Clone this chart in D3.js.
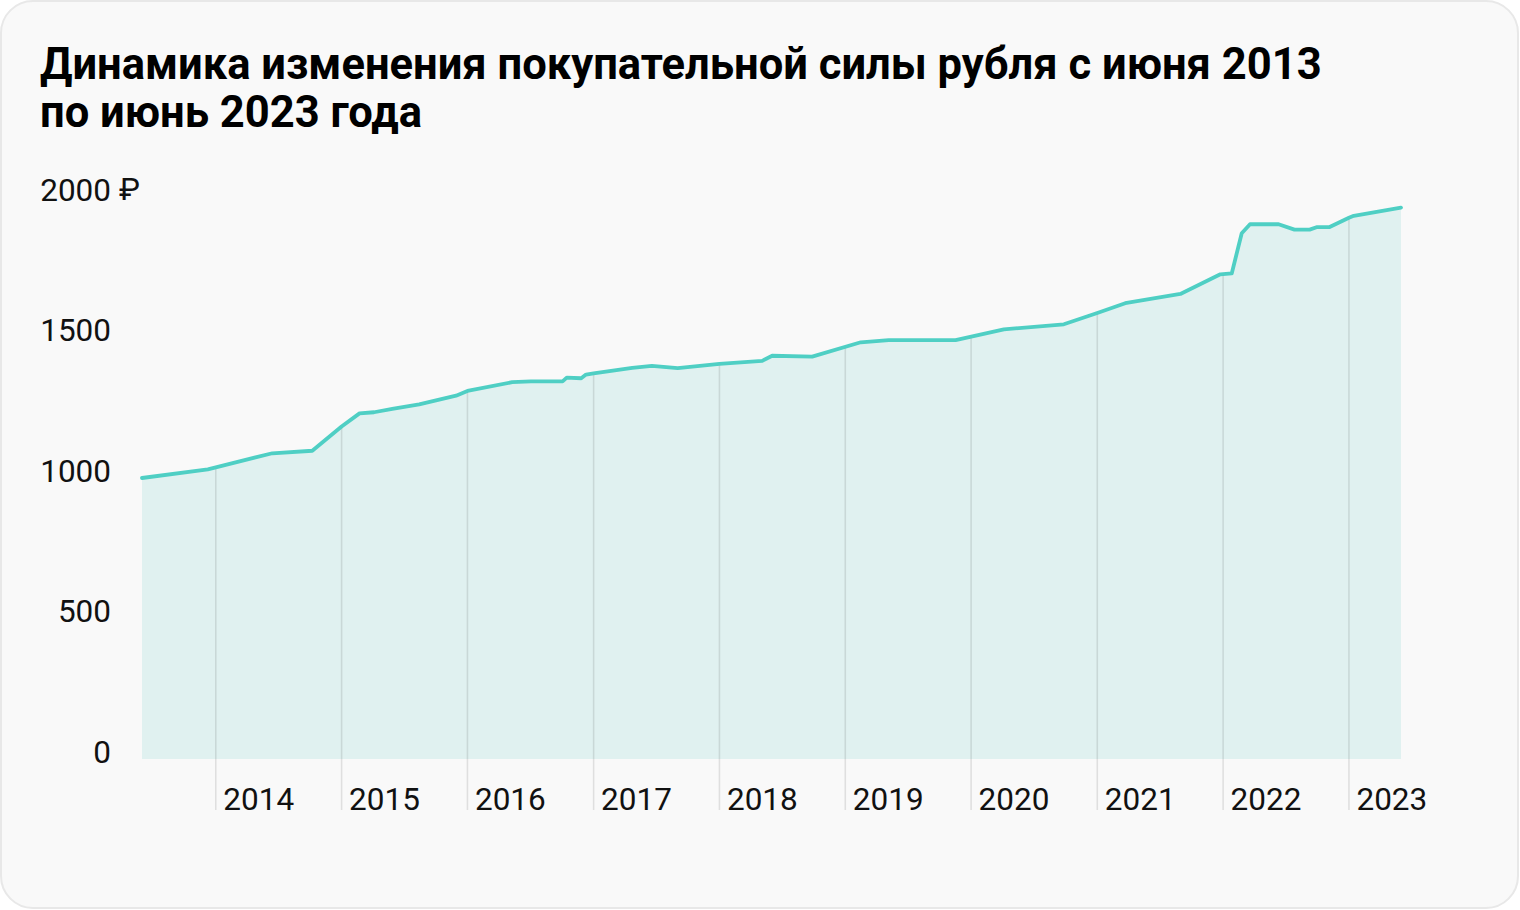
<!DOCTYPE html>
<html>
<head>
<meta charset="utf-8">
<script src="https://cdn.jsdelivr.net/npm/d3@7"></script>
<style>
  html, body { margin: 0; padding: 0; background: #ffffff; }
  svg { display: block; }
  text { font-family: Roboto, "Noto Sans", "DejaVu Sans", sans-serif; }
</style>
</head>
<body>
<svg id="chart" width="1520" height="910"></svg>
<script>
// ---- data ----
const titleLines = [
  "Динамика изменения покупательной силы рубля с июня 2013",
  "по июнь 2023 года"
];
const dates = [
  "2013-06-01","2013-12-09","2014-06-14","2014-10-08","2015-01-01","2015-02-22",
  "2015-04-05","2015-05-28","2015-08-14","2015-11-29","2016-01-01","2016-05-10",
  "2016-07-03","2016-10-03","2016-10-15","2016-11-26","2016-12-10","2017-01-01",
  "2017-04-23","2017-06-19","2017-09-02","2018-01-01","2018-05-05","2018-06-03",
  "2018-09-27","2019-02-15","2019-05-07","2019-11-17","2020-04-05","2020-09-26",
  "2021-01-01","2021-03-23","2021-08-30","2021-12-24","2022-01-26","2022-02-24",
  "2022-03-20","2022-06-11","2022-07-27","2022-09-09","2022-10-01","2022-11-06",
  "2023-01-01","2023-01-15","2023-06-01"
];
const values = [
  1000,1031,1088,1097,1183,1230,
  1234,1246,1262,1293,1310,1341,
  1344,1344,1357,1355,1368,1372,
  1392,1399,1391,1406,1417,1435,
  1432,1483,1491,1491,1529,1547,
  1587,1622,1655,1725,1728,1871,
  1903,1903,1884,1884,1893,1893,
  1926,1933,1962
];
const yearTicks = [2014,2015,2016,2017,2018,2019,2020,2021,2022,2023];
const yTicks = [0,500,1000,1500,2000];
const currencySign = "₽";

// ---- setup ----
const parse = d3.timeParse("%Y-%m-%d");
const data = dates.map((d, i) => ({ date: parse(d), value: values[i] }));

const svg = d3.select("#chart");
const W = 1520, H = 910;
const tickFont = 31.5;

// card
svg.append("rect")
  .attr("x", 1).attr("y", 1).attr("width", W - 3).attr("height", H - 3)
  .attr("rx", 32).attr("ry", 32)
  .attr("fill", "#f9f9f9").attr("stroke", "#e8e8e8").attr("stroke-width", 2);

// title
const title = svg.append("text")
  .attr("x", 40).attr("fill", "#000").attr("font-weight", 700).attr("font-size", 38);
titleLines.forEach((t, i) => {
  title.append("tspan").attr("x", 40).attr("y", i === 0 ? 79 : 127).text(t);
});
const firstLen = title.select("tspan").node().getComputedTextLength();
if (firstLen > 0) title.attr("font-size", 38 * 1282 / firstLen);

const x = d3.scaleTime()
  .domain([parse("2013-06-01"), parse("2023-06-01")])
  .range([142, 1401]);
const y = d3.scaleLinear().domain([0, 2000]).range([759, 197]);

const area = d3.area()
  .x(d => x(d.date)).y0(y(0)).y1(d => y(d.value));
const line = d3.line()
  .x(d => x(d.date)).y(d => y(d.value));

// clip for year dividers: area + strip below baseline
const clip = svg.append("defs").append("clipPath").attr("id", "yearClip");
clip.append("path").attr("d", area(data));
clip.append("rect").attr("x", 0).attr("y", y(0)).attr("width", W).attr("height", 52);

// area
svg.append("path").attr("d", area(data)).attr("fill", "#e0f1f0");

// year dividers
const yearDates = yearTicks.map(yr => new Date(yr, 0, 1));
svg.append("g").attr("clip-path", "url(#yearClip)")
  .selectAll("line").data(yearDates).join("line")
  .attr("x1", d => x(d)).attr("x2", d => x(d))
  .attr("y1", 150).attr("y2", 810)
  .attr("stroke", "#000").attr("stroke-opacity", 0.1).attr("stroke-width", 1.6);

// x axis labels
const xAxis = d3.axisBottom(x)
  .tickValues(yearDates)
  .tickFormat(d3.timeFormat("%Y"))
  .tickSize(0);
const gx = svg.append("g").call(xAxis);
gx.select(".domain").remove();
gx.selectAll(".tick line").remove();
gx.selectAll(".tick text")
  .attr("y", 810).attr("dy", 0).attr("x", 7)
  .attr("text-anchor", "start")
  .attr("font-size", tickFont).attr("fill", "#111")
  .style("font-family", "Roboto, 'Noto Sans', sans-serif");

// line
svg.append("path")
  .attr("d", line(data))
  .attr("fill", "none").attr("stroke", "#4fcfc4")
  .attr("stroke-width", 3.8).attr("stroke-linejoin", "round").attr("stroke-linecap", "round");

// y axis labels
const yAxis = d3.axisLeft(y).tickValues(yTicks).tickSize(0).tickFormat(d3.format("d"));
const gy = svg.append("g").attr("transform", "translate(111,0)").call(yAxis);
gy.select(".domain").remove();
gy.selectAll(".tick text")
  .attr("x", 0).attr("dy", 3).attr("y", 0)
  .attr("text-anchor", "end")
  .attr("font-size", tickFont).attr("fill", "#111")
  .style("font-family", "Roboto, 'Noto Sans', sans-serif");
svg.append("text")
  .attr("x", 119).attr("y", y(d3.max(yTicks)) + 3)
  .attr("font-size", tickFont).attr("fill", "#111")
  .text(currencySign);
</script>
</body>
</html>
